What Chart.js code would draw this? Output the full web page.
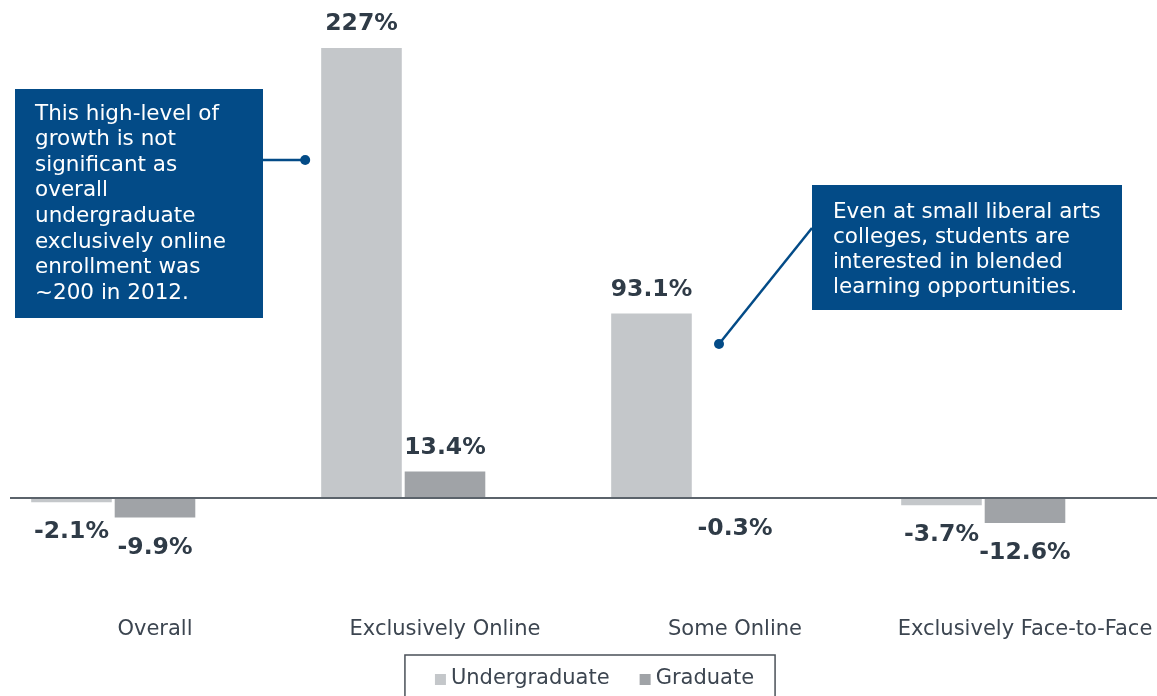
<!DOCTYPE html>
<html><head><meta charset="utf-8">
<script src="https://cdn.jsdelivr.net/npm/chart.js@4.4.1/dist/chart.umd.min.js"></script>
<style>
html,body{margin:0;padding:0;overflow:hidden;background:#fff}
#wrap{width:1172px;height:696px;position:relative}
</style></head>
<body><div id="wrap"><canvas id="c" width="1172" height="696"></canvas></div>
<script>
const categories = ["Overall", "Exclusively Online", "Some Online", "Exclusively Face-to-Face"];
const undergraduate = [-2.1, 227, 93.1, -3.7];
const graduate = [-9.9, 13.4, -0.3, -12.6];
const spacer = [null, null, null, null];
const seriesNames = ["Undergraduate", "Graduate"];
const seriesColors = ["#c4c7ca", "#a0a3a7"];
const note1 = ["This high-level of", "growth is not", "significant as", "overall", "undergraduate", "exclusively online", "enrollment was", "~200 in 2012."];
const note2 = ["Even at small liberal arts", "colleges, students are", "interested in blended", "learning opportunities."];

const FONT = "'DejaVu Sans', Verdana, sans-serif";
const NAVY = "#034b87";

const overlay = {
  id: 'overlay',
  afterDatasetsDraw(chart) {
    const ctx = chart.ctx;
    const ca = chart.chartArea;
    const y = chart.scales.y;
    const y0 = y.getPixelForValue(0);
    ctx.save();
    ctx.strokeStyle = "#5b636b";
    ctx.lineWidth = 2;
    ctx.beginPath();
    ctx.moveTo(ca.left, y0);
    ctx.lineTo(ca.right, y0);
    ctx.stroke();
    ctx.font = "bold 23.5px " + FONT;
    ctx.fillStyle = "#2f3b47";
    ctx.textAlign = "center";
    ctx.textBaseline = "middle";
    [0, 1].forEach(di => {
      const meta = chart.getDatasetMeta(di);
      const vals = chart.data.datasets[di].data;
      meta.data.forEach((el, i) => {
        const v = vals[i];
        if (v === null || v === undefined) return;
        const ty = v >= 0 ? el.y - 24 : el.y + 30;
        ctx.fillText(v + "%", el.x, ty);
      });
    });
    ctx.restore();
  },
  afterDraw(chart) {
    const ctx = chart.ctx;
    ctx.save();
    const bar = chart.getDatasetMeta(0).data[1];
    const dot1x = bar.x - bar.width / 2 - 16;
    ctx.fillStyle = NAVY;
    ctx.fillRect(15, 89, 248, 229);
    ctx.strokeStyle = NAVY;
    ctx.lineWidth = 2.5;
    ctx.beginPath(); ctx.moveTo(263, 160); ctx.lineTo(dot1x, 160); ctx.stroke();
    ctx.beginPath(); ctx.arc(dot1x, 160, 5, 0, Math.PI * 2); ctx.fill();
    ctx.fillStyle = "#ffffff";
    ctx.font = "21.5px " + FONT;
    ctx.textAlign = "left";
    ctx.textBaseline = "middle";
    note1.forEach((t, i) => ctx.fillText(t, 35, 114 + i * 25.6));
    ctx.fillStyle = NAVY;
    ctx.fillRect(812, 185, 310, 125);
    ctx.beginPath(); ctx.moveTo(812, 228); ctx.lineTo(719, 344); ctx.stroke();
    ctx.beginPath(); ctx.arc(719, 344, 5, 0, Math.PI * 2); ctx.fill();
    ctx.fillStyle = "#ffffff";
    note2.forEach((t, i) => ctx.fillText(t, 833, 212 + i * 25.3));
    ctx.font = "21px " + FONT;
    const w1 = ctx.measureText(seriesNames[0]).width;
    const w2 = ctx.measureText(seriesNames[1]).width;
    const totalW = 30 + 11 + 5 + w1 + 30 + 11 + 5 + w2 + 21;
    const lx = 590 - totalW / 2;
    ctx.strokeStyle = "#4a5058";
    ctx.lineWidth = 1.5;
    ctx.strokeRect(lx, 655, totalW, 60);
    let x = lx + 30;
    const ly = 679;
    seriesNames.forEach((n, i) => {
      ctx.fillStyle = seriesColors[i];
      ctx.fillRect(x, ly - 5, 11, 11);
      ctx.fillStyle = "#3c4550";
      ctx.fillText(n, x + 16, ly);
      x += 16 + (i === 0 ? w1 : w2) + 30;
    });
    ctx.restore();
  }
};

new Chart(document.getElementById('c'), {
  type: 'bar',
  data: {
    labels: categories,
    datasets: [
      { label: seriesNames[0], data: undergraduate, backgroundColor: seriesColors[0], borderWidth: 0 },
      { label: seriesNames[1], data: graduate, backgroundColor: seriesColors[1], borderWidth: 0 },
      { label: "", data: spacer, backgroundColor: "rgba(0,0,0,0)", borderWidth: 0 }
    ]
  },
  options: {
    responsive: false,
    animation: false,
    devicePixelRatio: 1,
    categoryPercentage: 0.864,
    barPercentage: 0.965,
    layout: { padding: { left: 10, right: 2, top: 3, bottom: 36 } },
    plugins: { legend: { display: false }, tooltip: { enabled: false } },
    scales: {
      x: {
        grid: { display: false },
        border: { display: false },
        ticks: { color: "#3c4550", font: { family: FONT, size: 21 }, padding: 1, maxRotation: 0 },
        afterFit: s => { s.height = 52; }
      },
      y: {
        display: false,
        min: -55.5,
        max: 249.7
      }
    }
  },
  plugins: [overlay]
});
</script>
</body></html>
